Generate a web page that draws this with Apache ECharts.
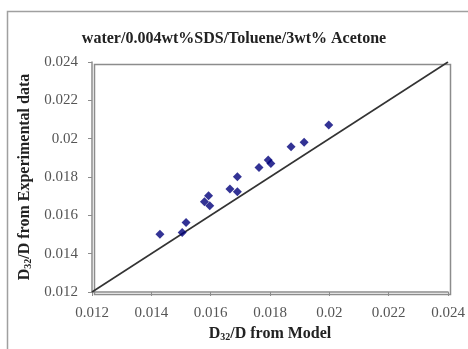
<!DOCTYPE html>
<html>
<head>
<meta charset="utf-8">
<script src="https://cdn.jsdelivr.net/npm/echarts@6/dist/echarts.min.js"></script>
<style>
html, body { margin: 0; padding: 0; background: #fff; }
#chart { width: 468px; height: 349px; }
</style>
</head>
<body>
<div id="chart"></div>
<script>
// model vs experimental D32/D
var modelX = [0.01429, 0.01504, 0.01517, 0.01579, 0.01593, 0.01597, 0.01665, 0.01690, 0.01690, 0.01763, 0.01794, 0.01803, 0.01871, 0.01915, 0.01998];
var expY   = [0.01501, 0.01511, 0.01563, 0.01671, 0.01702, 0.01650, 0.01737, 0.01801, 0.01723, 0.01850, 0.01889, 0.01871, 0.01958, 0.01981, 0.02071];
var diagonal = [[0.012, 0.012], [0.024, 0.024]];
var axisTicks = [0.012, 0.014, 0.016, 0.018, 0.02, 0.022, 0.024];

var points = [];
for (var i = 0; i < modelX.length; i++) {
    points.push([modelX[i], expY[i]]);
}

var serif = '"Liberation Serif", "DejaVu Serif", serif';
var chart = echarts.init(document.getElementById('chart'));

function axisOpt(nameRich) {
    return {
        type: 'value',
        min: axisTicks[0],
        max: axisTicks[axisTicks.length - 1],
        interval: 0.002,
        axisLine: { show: true, lineStyle: { color: '#8c8c8c', width: 1.5 } },
        axisTick: { show: true, inside: false, length: 4, lineStyle: { color: '#8c8c8c' } },
        splitLine: { show: false },
        axisLabel: {
            fontFamily: serif,
            fontSize: 15,
            color: '#555',
            margin: 14,
            formatter: function (v) { return String(+v.toFixed(3)); }
        },
        nameLocation: 'middle',
        name: nameRich,
        nameTextStyle: {
            fontFamily: serif,
            fontWeight: 'bold',
            fontSize: 16,
            color: '#222',
            rich: {
                a: { fontFamily: serif, fontWeight: 'bold', fontSize: 16, color: '#222' },
                s: { fontFamily: serif, fontWeight: 'bold', fontSize: 10, color: '#222', padding: [7, 0, 0, 0] }
            }
        }
    };
}

var xAxis = axisOpt('{a|D}{s|32}{a|/D from Model}');
xAxis.nameGap = 31;
var yAxis = axisOpt('{a|D}{s|32}{a|/D from Experimental data}');
yAxis.nameGap = 58;

var option = {
    backgroundColor: '#fff',
    animation: false,
    title: {
        text: 'water/0.004wt%SDS/Toluene/3wt% Acetone',
        left: 'center',
        top: 26,
        textStyle: { fontFamily: serif, fontWeight: 'bold', fontSize: 16, color: '#222' }
    },
    grid: { left: 92, right: 20, top: 62, bottom: 57 },
    graphic: [
        { type: 'rect', left: 5, top: 9, shape: { width: 520, height: 400 }, style: { fill: 'none', stroke: '#a0a0a0', lineWidth: 1.5 }, silent: true },
        { type: 'rect', left: 92, top: 62, shape: { width: 356, height: 230 }, style: { fill: 'none', stroke: '#8c8c8c', lineWidth: 1.5 }, silent: true }
    ],
    xAxis: xAxis,
    yAxis: yAxis,
    series: [
        {
            type: 'line',
            data: diagonal,
            symbol: 'none',
            lineStyle: { color: '#333', width: 1.6 },
            z: 1
        },
        {
            type: 'scatter',
            data: points,
            symbol: 'diamond',
            symbolSize: 9,
            itemStyle: { color: '#00007a' },
            z: 2
        }
    ]
};
chart.setOption(option);
</script>
</body>
</html>
